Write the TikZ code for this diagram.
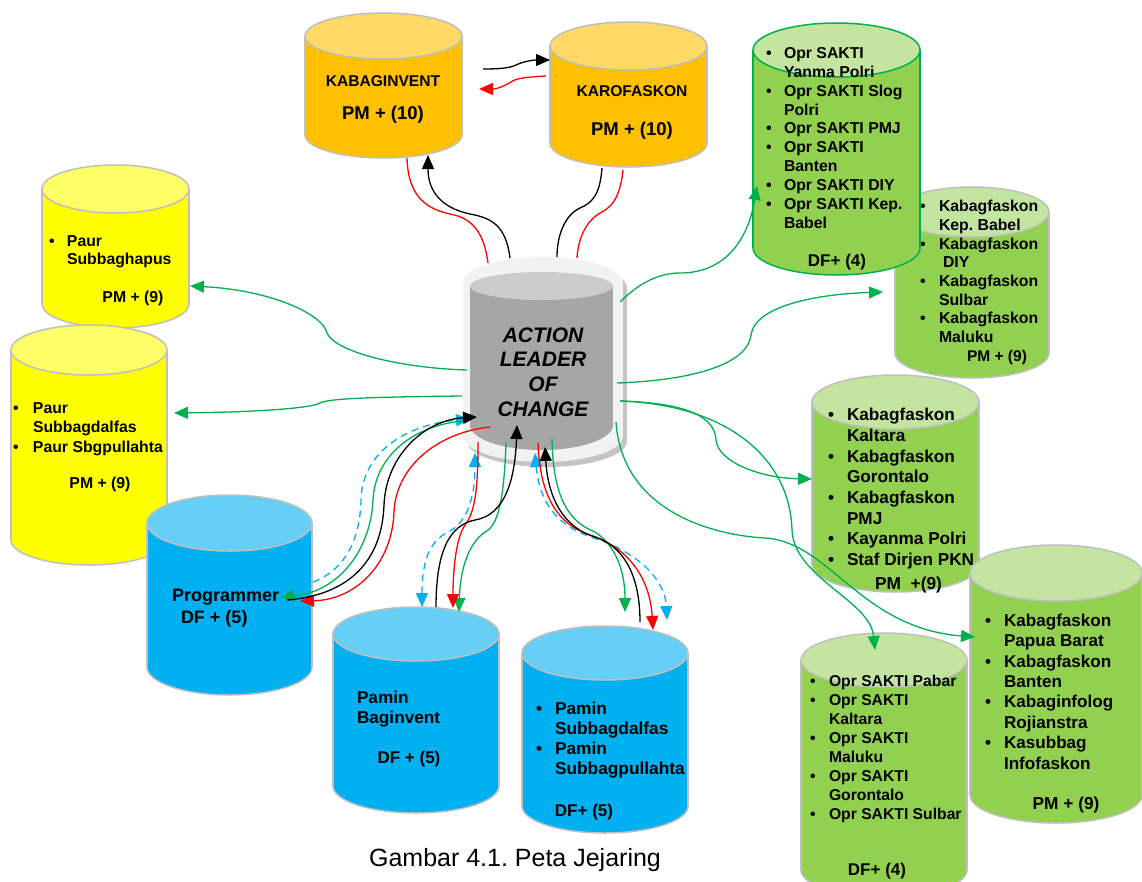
\documentclass[tikz,border=0pt]{standalone}
\usepackage{fontspec}
\setmainfont{Liberation Sans}
\usetikzlibrary{arrows.meta}
\frenchspacing
\definecolor{cBorder}{HTML}{BFBFBF}
\definecolor{cOra}{HTML}{FFC000}
\definecolor{cOraT}{HTML}{FFD966}
\definecolor{cYel}{HTML}{FFFF00}
\definecolor{cYelT}{HTML}{FFFF66}
\definecolor{cBlue}{HTML}{00B0F0}
\definecolor{cBlueT}{HTML}{66CFF5}
\definecolor{cGrn}{HTML}{92D050}
\definecolor{cGrnT}{HTML}{C3E5A0}
\definecolor{cGreen}{HTML}{00B050}
\definecolor{cRed}{HTML}{FF0000}
\definecolor{cRim}{HTML}{F2F2F2}
\definecolor{cShadow}{HTML}{C4C4C4}
\definecolor{cInner}{HTML}{A6A6A6}
\definecolor{cInnerT}{HTML}{CCCCCC}
\newlength\bw
\newcommand\bi[1]{\makebox[\bw][l]{\textbullet}#1}
\newcommand\ci[1]{\hspace*{\bw}#1}
\newcommand\lf[2]{\fontsize{#1}{#2}\selectfont\bfseries}
% name, cx, ytop, ybot, rx, ry, body, top, border
\newcommand\drum[9]{%
  \filldraw[fill=#7, draw=#9, line width=1.5pt] (#2,#4) ellipse[x radius=#5, y radius=#6];
  \fill[#7] (#2-#5,#3) rectangle (#2+#5,#4);
  \draw[#9, line width=1.5pt] (#2-#5,#3) -- (#2-#5,#4) (#2+#5,#3) -- (#2+#5,#4);
  \filldraw[fill=#8, draw=#9, line width=1.5pt] (#2,#3) ellipse[x radius=#5, y radius=#6];
  \node[inner sep=0pt, outer sep=0pt, minimum width={2*(#5)}, minimum height={#4-#3+2*#6}] (#1) at (#2,{(#3+#4)/2}) {};
}
\begin{document}
\begin{tikzpicture}[x=1pt,y=-1pt,
  txt/.style={inner sep=0pt, outer sep=0pt},
  list/.style={txt, align=left, anchor=west},
  lbl/.style={txt, anchor=base},
  con/.style={line width=1.3pt},
  tipE/.style={-{Triangle[length=14pt,width=12pt]}},
  tipB/.style={{Triangle[length=14pt,width=12pt]}-{Triangle[length=14pt,width=12pt]}},
  gl/.style={con, draw=cGreen},
  rl/.style={con, draw=cRed},
  kl/.style={con, draw=black},
  bl/.style={con, draw=cBlue, dash pattern=on 7pt off 5pt}
]
\useasboundingbox (0,0) rectangle (1142,881);
\clip (0,0) rectangle (1142,881);

% ---------- yellow ----------
\drum{paur1}{115.5}{189}{304}{73.5}{24}{cYel}{cYelT}{cBorder}
\node[list, font={\lf{15.8}{18}\setlength\bw{18pt}}] (paur1T) at (49,251.6) {\bi{Paur}\\\ci{Subbaghapus}};
\node[lbl, font=\lf{15.8}{18}] (paur1P) at (133,302.7) {PM + (9)};

\drum{paur2}{89}{350}{540}{78}{25}{cYel}{cYelT}{cBorder}
\node[list, font={\lf{15.8}{19.5}\setlength\bw{20pt}}] (paur2T) at (13,429) {\bi{Paur}\\\ci{Subbagdalfas}\\\bi{Paur Sbgpullahta}};
\node[lbl, font=\lf{15.8}{18}] (paur2P) at (100,488.7) {PM + (9)};

% ---------- programmer ----------
\drum{prog}{229.5}{523}{667}{82.5}{28}{cBlue}{cBlueT}{cBorder}
\node[txt, anchor=base west, font=\lf{18}{20}] (progT) at (172,601.4) {Programmer};
\node[txt, anchor=base west, font=\lf{18}{20}] (progP) at (181,623.4) {DF + (5)};

% ---------- orange ----------
\drum{kab}{383.5}{36}{135}{78.5}{23}{cOra}{cOraT}{cBorder}
\node[lbl, font=\lf{15.6}{18}] (kabT) at (383,86.6) {KABAGINVENT};
\node[lbl, font=\lf{18.5}{20}] (kabP) at (383,119.6) {PM + (10)};
\drum{karo}{628.5}{46}{143}{78.5}{24}{cOra}{cOraT}{cBorder}
\node[lbl, font=\lf{15.6}{18}] (karoT) at (632,96.6) {KAROFASKON};
\node[lbl, font=\lf{18.5}{20}] (karoP) at (632,135.6) {PM + (10)};

% ---------- centre ----------
\fill[cShadow] (467,288) rectangle (627,441);
\fill[cShadow] (547,441) ellipse[x radius=80, y radius=26];
\fill[cShadow] (547,288) ellipse[x radius=80, y radius=26];
\fill[cRim] (463,283) rectangle (623,436);
\fill[cRim] (543,436) ellipse[x radius=80, y radius=26];
\fill[cRim] (543,283) ellipse[x radius=80, y radius=26];
\fill[cInner] (470,286) rectangle (613,425);
\fill[cInner] (541.5,425) ellipse[x radius=71.5, y radius=25];
\fill[cInnerT] (541.5,286) ellipse[x radius=71.5, y radius=14];
\node[txt, minimum width=160pt, minimum height=206pt] (alc) at (543,360) {};
\node[txt, align=center, font={\fontsize{21}{24.7}\selectfont\bfseries\itshape}] (alcT) at (543,372) {ACTION\\LEADER\\OF\\CHANGE};

% ---------- green right ----------
\drum{babel}{972}{212}{353}{77}{25}{cGrn}{cGrnT}{cBorder}
\node[list, font={\lf{15.8}{18.7}\setlength\bw{19pt}}] (babelT) at (920,271.5) {\bi{Kabagfaskon}\\\ci{Kep. Babel}\\\bi{Kabagfaskon}\\\ci{\hspace*{4pt}DIY}\\\bi{Kabagfaskon}\\\ci{Sulbar}\\\bi{Kabagfaskon}\\\ci{Maluku}};
\node[lbl, font=\lf{15.5}{18}] (babelP) at (997,361.5) {PM + (9)};

\drum{opr1}{836.5}{50}{248}{83.5}{27}{cGrn}{cGrnT}{cGreen}
\node[list, font={\lf{15.8}{18.9}\setlength\bw{18pt}}] (opr1T) at (766,138) {\bi{Opr SAKTI}\\\ci{Yanma Polri}\\\bi{Opr SAKTI Slog}\\\ci{Polri}\\\bi{Opr SAKTI PMJ}\\\bi{Opr SAKTI}\\\ci{Banten}\\\bi{Opr SAKTI DIY}\\\bi{Opr SAKTI Kep.}\\\ci{Babel}};
\node[lbl, font=\lf{17}{19}] (opr1P) at (837,266.1) {DF+ (4)};

\drum{kalt}{895.5}{402}{565}{83.5}{27}{cGrn}{cGrnT}{cBorder}
\node[list, font={\lf{17.2}{20.7}\setlength\bw{19pt}}] (kaltT) at (828,488.7) {\bi{Kabagfaskon}\\\ci{Kaltara}\\\bi{Kabagfaskon}\\\ci{Gorontalo}\\\bi{Kabagfaskon}\\\ci{PMJ}\\\bi{Kayanma Polri}\\\bi{Staf Dirjen PKN}};
\node[lbl, font=\lf{17.3}{19}] (kaltP) at (908.5,589.2) {PM\ \ +(9)};

\drum{papua}{1056}{573}{795}{86}{28}{cGrn}{cGrnT}{cBorder}
\node[list, font={\lf{17.1}{20.4}\setlength\bw{19pt}}] (papuaT) at (985,691.5) {\bi{Kabagfaskon}\\\ci{Papua Barat}\\\bi{Kabagfaskon}\\\ci{Banten}\\\bi{Kabaginfolog}\\\ci{Rojianstra}\\\bi{Kasubbag}\\\ci{Infofaskon}};
\node[lbl, font=\lf{17.3}{19}] (papuaP) at (1066,809.2) {PM + (9)};

\drum{pabar}{884}{660}{870}{83}{27}{cGrn}{cGrnT}{cBorder}
\node[list, font={\lf{15.7}{19}\setlength\bw{19pt}}] (pabarT) at (810,749) {\bi{Opr SAKTI Pabar}\\\bi{Opr SAKTI}\\\ci{Kaltara}\\\bi{Opr SAKTI}\\\ci{Maluku}\\\bi{Opr SAKTI}\\\ci{Gorontalo}\\\bi{Opr SAKTI Sulbar}};
\node[lbl, font=\lf{17}{19}] (pabarP) at (877,875.1) {DF+ (4)};

% ---------- blue bottom ----------
\drum{pam1}{416}{634}{786}{83}{27}{cBlue}{cBlueT}{cBorder}
\node[list, font=\lf{17.2}{20}] (pam1T) at (357,708.8) {Pamin\\Baginvent};
\node[lbl, font=\lf{17}{19}] (pam1P) at (409,763.1) {DF + (5)};

\drum{pam2}{605}{653}{806}{83}{27}{cBlue}{cBlueT}{cBorder}
\node[list, font={\lf{17.3}{20}\setlength\bw{19pt}}] (pam2T) at (536,739.8) {\bi{Pamin}\\\ci{Subbagdalfas}\\\bi{Pamin}\\\ci{Subbagpullahta}};
\node[lbl, font=\lf{17}{19}] (pam2P) at (584,816.1) {DF+ (5)};

% ---------- caption ----------
\node[lbl, font=\fontsize{25}{28}\selectfont] (cap) at (515,866) {Gambar 4.1. Peta Jejaring};

% ---------- connector end points ----------
\coordinate (e1a) at (483,69);  \coordinate (e1b) at (550,60);
\coordinate (e2a) at (546,76);  \coordinate (e2b) at (479,89);
\coordinate (e3a) at (510,258); \coordinate (e3b) at (428,155);
\coordinate (e4a) at (488,263); \coordinate (e4b) at (407,158);
\coordinate (e5a) at (602,168); \coordinate (e5b) at (557,257);
\coordinate (e6a) at (623,170); \coordinate (e6b) at (577,258);
\coordinate (g1a) at (467,370); \coordinate (g1b) at (190,286);
\coordinate (g2a) at (462,396); \coordinate (g2b) at (174,413);
\coordinate (g3a) at (620,302); \coordinate (g3b) at (757,186);
\coordinate (g4a) at (617,383); \coordinate (g4b) at (883,292);
\coordinate (g5a) at (620,401); \coordinate (g5b) at (812,479);
\coordinate (g6b) at (875,650);
\coordinate (g7a) at (616,422); \coordinate (g7b) at (975,637);
\coordinate (p1a) at (313,582); \coordinate (p1b) at (470,419);
\coordinate (p2a) at (463,421); \coordinate (p2b) at (280,597);
\coordinate (p3a) at (287,600); \coordinate (p3b) at (477,417);
\coordinate (p4a) at (490,427); \coordinate (p4b) at (300,601);
\coordinate (q1a) at (422,607); \coordinate (q1b) at (475,453);
\coordinate (q2a) at (478,442); \coordinate (q2b) at (453,608);
\coordinate (q3a) at (506,443); \coordinate (q3b) at (459,612);
\coordinate (q4a) at (436,607); \coordinate (q4b) at (517,425);
\coordinate (r1a) at (535,453); \coordinate (r1b) at (667,620);
\coordinate (r2a) at (538,443); \coordinate (r2b) at (653,630);
\coordinate (r3a) at (552,439); \coordinate (r3b) at (625,612);
\coordinate (r4a) at (640,622); \coordinate (r4b) at (545,447);

% ---------- top connectors ----------
\draw[kl, tipE] (e1a) .. controls (500,69) and (510,68) .. (516,65) .. controls (522,62) and (532,60) .. (e1b);
\draw[rl, tipE] (e2a) .. controls (528,77) and (516,78) .. (511,82) .. controls (505,86) and (497,89) .. (e2b);
\draw[rl] (e4a) .. controls (484,232) and (472,218) .. (450,214) .. controls (422,208) and (408,192) .. (e4b);
\draw[kl, tipE] (e3a) .. controls (506,226) and (492,218) .. (470,214) .. controls (442,208) and (428,192) .. (e3b);
\draw[kl] (e5a) .. controls (600,195) and (592,203) .. (580,208) .. controls (565,215) and (557,235) .. (e5b);
\draw[rl] (e6a) .. controls (620,200) and (610,208) .. (600,213) .. controls (585,222) and (578,240) .. (e6b);

% ---------- green side connectors ----------
\draw[gl, tipE] (g1a) .. controls (400,368) and (335,352) .. (327,333) .. controls (323,314) and (270,290) .. (g1b);
\draw[gl, tipE] (g2a) .. controls (380,397) and (330,398) .. (320,403) .. controls (312,408) and (260,412) .. (g2b);
\draw[gl, tipE] (g3a) .. controls (640,282) and (660,273) .. (680,273) .. controls (725,273) and (748,240) .. (g3b);
\draw[gl, tipE] (g4a) .. controls (700,380) and (748,362) .. (751,335) .. controls (755,305) and (820,294) .. (g4b);
\draw[gl, tipE] (g5a) .. controls (690,403) and (715,418) .. (716,440) .. controls (718,462) and (760,478) .. (g5b);
\draw[gl, tipE] (g5a) .. controls (730,405) and (790,460) .. (792,530) .. controls (794,578) and (870,600) .. (g6b);
\draw[gl, tipE] (g7a) .. controls (622,510) and (710,535) .. (765,538) .. controls (830,542) and (860,628) .. (g7b);

% ---------- programmer bundle ----------
\draw[bl, tipE] (p1a) .. controls (345,570) and (360,540) .. (361,500) .. controls (362,450) and (410,424) .. (p1b);
\draw[gl, tipE] (p2a) .. controls (415,425) and (375,455) .. (373,500) .. controls (371,548) and (340,592) .. (p2b);
\draw[rl, tipE] (p4a) .. controls (440,432) and (396,465) .. (394,512) .. controls (392,565) and (355,600) .. (p4b);
\draw[kl, tipE] (p3a) .. controls (350,595) and (382,560) .. (384,505) .. controls (386,455) and (425,420) .. (p3b);

% ---------- pamin baginvent bundle ----------
\draw[bl, tipB] (q1a) .. controls (422,560) and (430,540) .. (450,531) .. controls (470,520) and (475,490) .. (q1b);
\draw[gl, tipE] (q3a) .. controls (504,500) and (498,526) .. (485,532) .. controls (466,545) and (460,575) .. (q3b);
\draw[rl, tipE] (q2a) .. controls (478,490) and (475,512) .. (465,525) .. controls (456,538) and (453,570) .. (q2b);
\draw[kl, tipE] (q4a) .. controls (436,550) and (450,525) .. (475,520) .. controls (505,515) and (515,480) .. (q4b);

% ---------- pamin subbagdalfas bundle ----------
\draw[bl, tipB] (r1a) .. controls (540,510) and (565,530) .. (600,540) .. controls (640,555) and (665,580) .. (r1b);
\draw[gl, tipE] (r3a) .. controls (553,500) and (570,522) .. (595,532) .. controls (615,545) and (625,570) .. (r3b);
\draw[rl, tipE] (r2a) .. controls (540,500) and (560,525) .. (590,535) .. controls (630,548) and (650,580) .. (r2b);
\draw[kl, tipE] (r4a) .. controls (640,570) and (620,545) .. (595,537) .. controls (565,528) and (548,500) .. (r4b);
\end{tikzpicture}
\end{document}
